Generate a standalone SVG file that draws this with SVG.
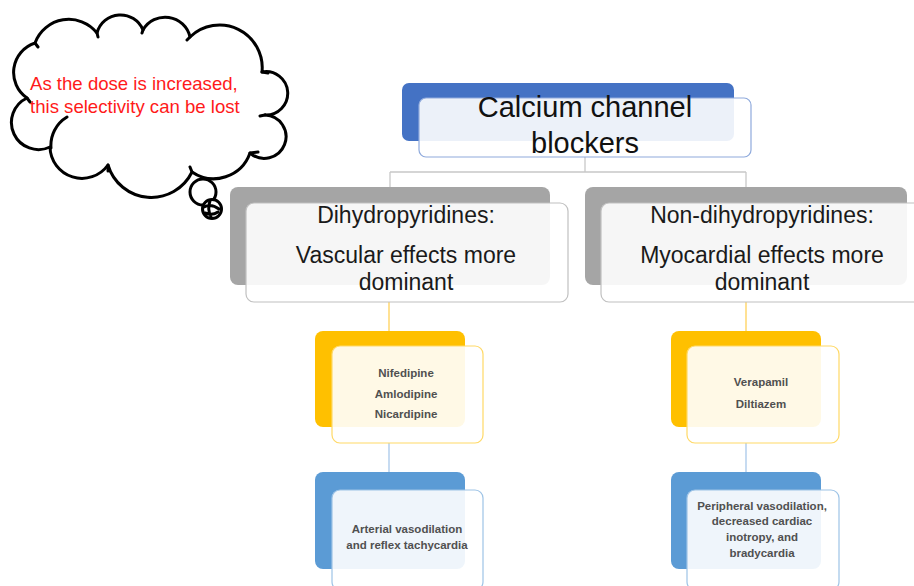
<svg xmlns="http://www.w3.org/2000/svg" width="914" height="586" viewBox="0 0 914 586">
<style>
.bg{fill:#ffffff}
.back{stroke:none}
.front{fill:#ffffff;fill-opacity:0.9;stroke-width:1.2}
.t1{font-family:"Liberation Sans",Arial,sans-serif;font-size:29px;fill:#111;text-anchor:middle}
.t2{font-family:"Liberation Sans",Arial,sans-serif;font-size:23px;fill:#1a1a1a;text-anchor:middle}
.t3{font-family:"Liberation Sans",Arial,sans-serif;font-size:11.5px;font-weight:bold;fill:#505050;text-anchor:middle}
.red{font-family:"Liberation Sans",Arial,sans-serif;font-size:18.6px;fill:#ff1a1a}
.cloud{fill:#ffffff;stroke:#000;stroke-width:3;stroke-linejoin:round;stroke-linecap:round}
.hook{fill:none;stroke:#000;stroke-width:3;stroke-linecap:round}
.cg{stroke:#c8c8c8;stroke-width:1.3;fill:none}
.cy{stroke:#ffd25a;stroke-width:1.3;fill:none}
.cb{stroke:#a9c8ea;stroke-width:1.3;fill:none}
</style>
<rect class="bg" x="0" y="0" width="914" height="586"/>

<g id="connectors">
<path class="cg" d="M585 157 V172 M390 172 H746 M390 172 V188 M746 172 V188"/>
<path class="cy" d="M389 302 V331 M746 302 V331"/>
<path class="cb" d="M389 443 V472 M746 443 V472"/>
</g>

<g id="ccb">
<rect class="back" x="402" y="83" width="332" height="58" rx="7" fill="#4472c4"/>
<rect class="front" x="419" y="98" width="332" height="59" rx="7" stroke="#8faadc"/>
<text class="t1" x="585" y="117">Calcium channel</text>
<text class="t1" x="585" y="153">blockers</text>
</g>

<g id="dhp">
<rect class="back" x="230" y="187" width="320" height="98" rx="8" fill="#a5a5a5"/>
<rect class="front" x="246" y="203" width="322" height="99" rx="8" stroke="#c0c0c0"/>
<text class="t2" x="406" y="223">Dihydropyridines:</text>
<text class="t2" x="406" y="263">Vascular effects more</text>
<text class="t2" x="406" y="290">dominant</text>
</g>

<g id="ndhp">
<rect class="back" x="585" y="187" width="322" height="98" rx="8" fill="#a5a5a5"/>
<rect class="front" x="601" y="203" width="322" height="99" rx="8" stroke="#c0c0c0"/>
<text class="t2" x="762" y="223">Non-dihydropyridines:</text>
<text class="t2" x="762" y="263">Myocardial effects more</text>
<text class="t2" x="762" y="290">dominant</text>
</g>

<g id="dhp-drugs">
<rect class="back" x="315" y="331" width="150" height="96" rx="8" fill="#ffc000"/>
<rect class="front" x="332" y="346" width="151" height="97" rx="8" stroke="#ffd966"/>
<text class="t3" x="406" y="377">Nifedipine</text>
<text class="t3" x="406" y="398">Amlodipine</text>
<text class="t3" x="406" y="418">Nicardipine</text>
</g>

<g id="ndhp-drugs">
<rect class="back" x="671" y="331" width="150" height="96" rx="8" fill="#ffc000"/>
<rect class="front" x="687" y="346" width="152" height="97" rx="8" stroke="#ffd966"/>
<text class="t3" x="761" y="386">Verapamil</text>
<text class="t3" x="761" y="408">Diltiazem</text>
</g>

<g id="dhp-effects">
<rect class="back" x="315" y="472" width="150" height="97" rx="8" fill="#5b9bd5"/>
<rect class="front" x="332" y="490" width="151" height="100" rx="8" stroke="#9dc3e6"/>
<text class="t3" x="407" y="533">Arterial vasodilation</text>
<text class="t3" x="407" y="549">and reflex tachycardia</text>
</g>

<g id="ndhp-effects">
<rect class="back" x="671" y="472" width="150" height="97" rx="8" fill="#5b9bd5"/>
<rect class="front" x="687" y="490" width="152" height="100" rx="8" stroke="#9dc3e6"/>
<text class="t3" x="762" y="510">Peripheral vasodilation,</text>
<text class="t3" x="762" y="525">decreased cardiac</text>
<text class="t3" x="762" y="541">inotropy, and</text>
<text class="t3" x="762" y="557">bradycardia</text>
</g>

<g id="callout">
<path class="cloud" d="M27 98 A31 31 0 0 1 35 43 A36 36 0 0 1 97 33 A24.3 24.3 0 0 1 143 30 A25.5 25.5 0 0 1 190 37 A42.6 42.6 0 0 1 262 72 A21.7 21.7 0 1 1 265 115 A21.7 21.7 0 1 1 250 153 A38.5 38.5 0 0 1 192 172 A45.2 45.2 0 0 1 108 165 A32 32 0 0 1 50 147 A27 27 0 1 1 27 98 Z"/>
<path class="hook" d="M27 98 L30 102 M35 43 L38 47 M97 33 L98 37 M143 30 L142 33 M190 37 L187 40 M262 72 L268 73 M265 115 L260 116 M250 153 L258 152 M192 172 L190 167 M108 165 L108 171 M51 148 A33 33 0 0 1 67 117"/>
<circle class="cloud" cx="203" cy="192" r="13"/>
<circle class="cloud" cx="212" cy="209" r="9.5"/>
<path class="hook" stroke-width="2" d="M204 207 Q211 203 219 209 M205 213 Q212 216 218 212 M210 201 Q207 209 211 217"/>
<text class="red" x="30" y="90">As the dose is increased,</text>
<text class="red" x="30" y="113">this selectivity can be lost</text>
</g>
</svg>
